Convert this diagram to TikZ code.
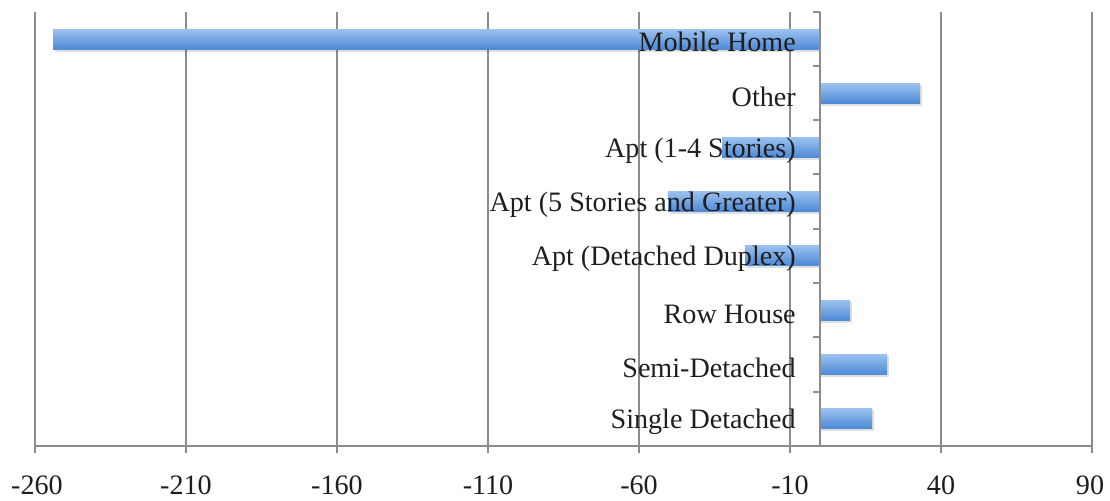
\documentclass[tikz,border=0pt]{standalone}
\usepackage{fontspec}
\setmainfont{Liberation Serif}
\definecolor{gridgray}{HTML}{8C8C8C}
\definecolor{bartop}{HTML}{9CC3F0}
\definecolor{barbottom}{HTML}{4F8AD6}
\definecolor{labeltext}{HTML}{1E1E1E}
\tikzset{
  gridline/.style={draw=gridgray, line width=1.4pt},
  axisline/.style={draw=gridgray, line width=1.2pt},
  bar/.style={top color=bartop, bottom color=barbottom, draw=none},
  barshadow/.style={fill=black, opacity=0.12, draw=none},
  catlabel/.style={anchor=east, inner sep=0pt, text=labeltext, font=\fontsize{20}{20}\selectfont},
  ticklabel/.style={anchor=center, inner sep=0pt, text=labeltext, font=\fontsize{20}{20}\selectfont}
}
\begin{document}
\begin{tikzpicture}[x=0.025cm, y=-0.025cm]
\useasboundingbox (0,0) rectangle (1110,500);
% vertical grid lines, one per tick
\draw[gridline] (35,12) -- (35,453);
\draw[gridline] (186,12) -- (186,453);
\draw[gridline] (337,12) -- (337,453);
\draw[gridline] (488,12) -- (488,453);
\draw[gridline] (639,12) -- (639,453);
\draw[gridline] (790,12) -- (790,453);
\draw[gridline] (941,12) -- (941,453);
\draw[gridline] (1092,12) -- (1092,453);
% bars (shadow first)
\fill[barshadow] (55,31) rectangle (820,52);
\fill[barshadow] (820,85) rectangle (922,106);
\fill[barshadow] (724,139) rectangle (820,160);
\fill[barshadow] (670,193) rectangle (820,214);
\fill[barshadow] (747,247) rectangle (820,268);
\fill[barshadow] (820,302) rectangle (852,323);
\fill[barshadow] (820,356) rectangle (889,377);
\fill[barshadow] (820,410) rectangle (874,431);
\fill[bar] (53,29) rectangle (820,49);
\fill[bar] (820,83) rectangle (920,103);
\fill[bar] (722,137) rectangle (820,157);
\fill[bar] (668,191) rectangle (820,211);
\fill[bar] (745,245) rectangle (820,265);
\fill[bar] (820,300) rectangle (850,320);
\fill[bar] (820,354) rectangle (887,374);
\fill[bar] (820,408) rectangle (872,428);
% axes
\draw[axisline] (35,446) -- (1092,446);
\draw[axisline] (820,12) -- (820,446);
\draw[axisline] (813,12) -- (820,12);
\draw[axisline] (813,66) -- (820,66);
\draw[axisline] (813,120) -- (820,120);
\draw[axisline] (813,174) -- (820,174);
\draw[axisline] (813,229) -- (820,229);
\draw[axisline] (813,283) -- (820,283);
\draw[axisline] (813,337) -- (820,337);
\draw[axisline] (813,392) -- (820,392);
\draw[axisline] (813,446) -- (820,446);
% category labels
\node[catlabel] (mobile) at (796,42) {Mobile Home};
\node[catlabel] (other) at (796,97) {Other};
\node[catlabel] (apt14) at (796,151) {Apt (1-4 Stories)};
\node[catlabel] (apt5) at (796,205) {Apt (5 Stories and Greater)};
\node[catlabel] (duplex) at (796,259) {Apt (Detached Duplex)};
\node[catlabel] (row) at (796,314) {Row House};
\node[catlabel] (semi) at (796,368) {Semi-Detached};
\node[catlabel] (single) at (796,422) {Single Detached};
% value labels
\node[ticklabel] (t1) at (37,485) {-260};
\node[ticklabel] (t2) at (186,485) {-210};
\node[ticklabel] (t3) at (337,485) {-160};
\node[ticklabel] (t4) at (488,485) {-110};
\node[ticklabel] (t5) at (639,485) {-60};
\node[ticklabel] (t6) at (790,485) {-10};
\node[ticklabel] (t7) at (941,485) {40};
\node[ticklabel] (t8) at (1090,485) {90};
\end{tikzpicture}
\end{document}
